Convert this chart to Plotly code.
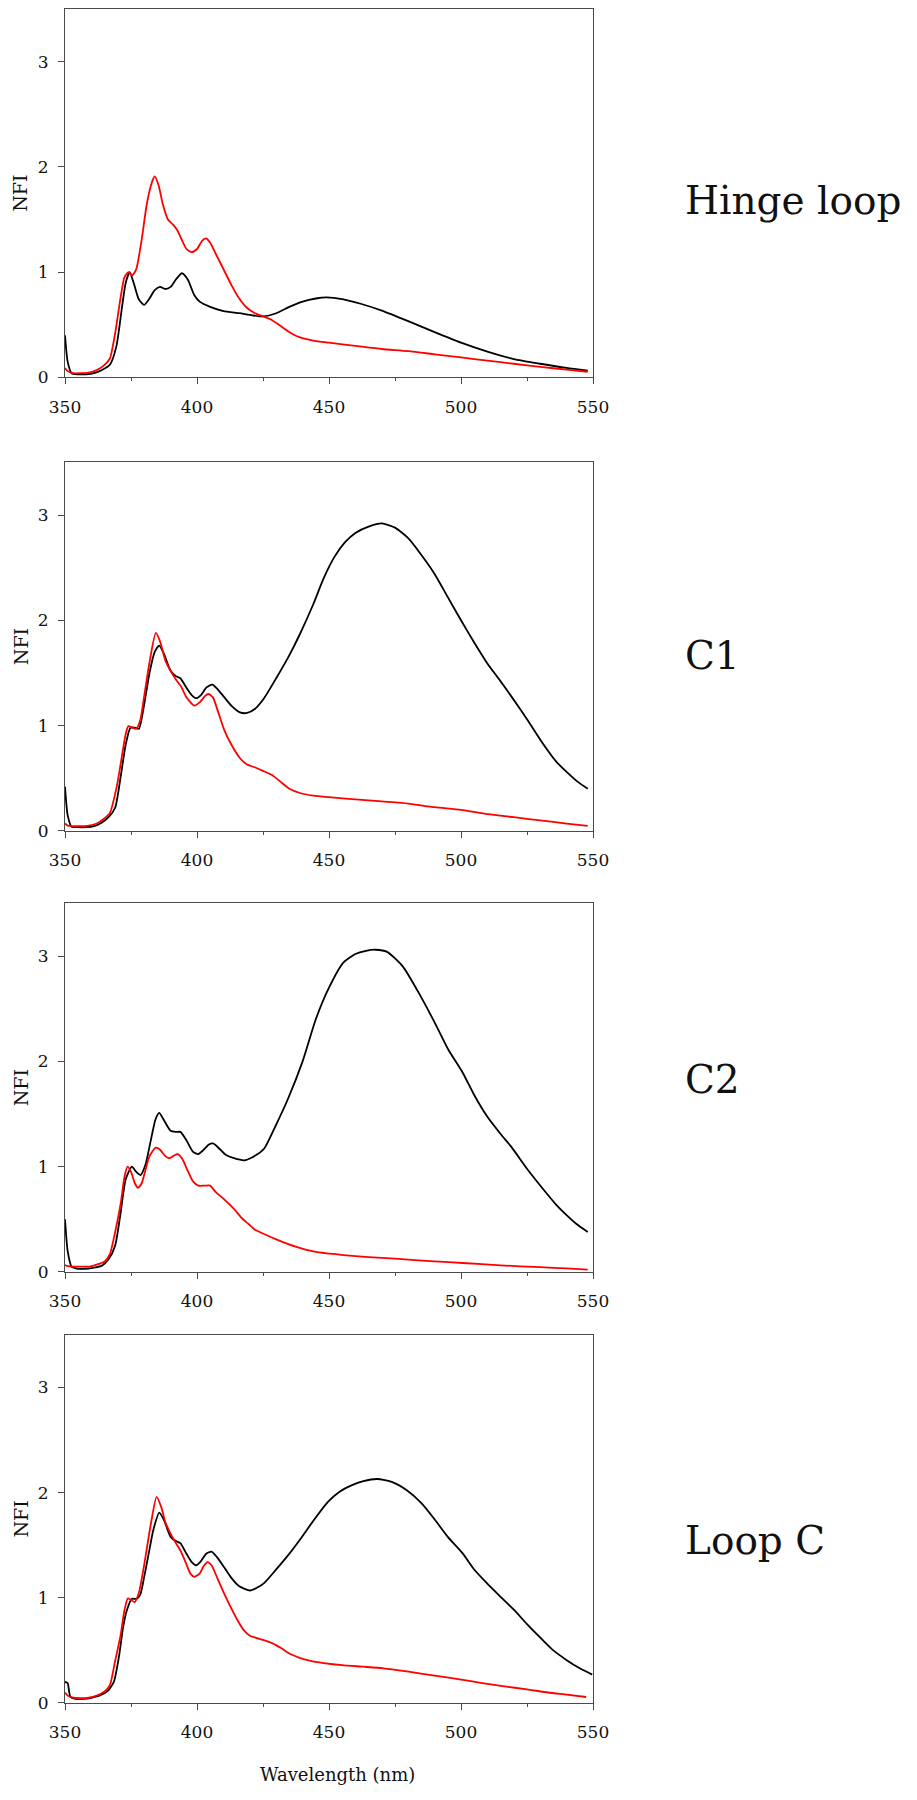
import plotly.graph_objects as go

# ---------------- data (wavelength nm, NFI) ----------------
panel_labels = ["Hinge loop", "C1", "C2", "Loop C"]
x_ticks = [350, 400, 450, 500, 550]
y_ticks = [0, 1, 2, 3]

hinge_black = [(350, 0.40), (351, 0.15), (352.5, 0.04), (355, 0.03), (358, 0.03), (361, 0.04), (364, 0.07),
               (367, 0.12), (369.5, 0.30), (371.5, 0.65), (373, 0.90), (374.5, 1.00), (376, 0.90), (378, 0.74),
               (380, 0.69), (382, 0.75), (384, 0.83), (386, 0.86), (388, 0.84), (390, 0.86), (392, 0.93),
               (394.3, 0.99), (396.5, 0.93), (399, 0.78), (401, 0.72), (405, 0.67), (410, 0.63), (416, 0.61),
               (421, 0.59), (425, 0.58), (430, 0.61), (435, 0.67), (440, 0.72), (445, 0.75), (449, 0.76),
               (455, 0.745), (462, 0.70), (470, 0.635), (480, 0.535), (490, 0.43), (500, 0.33), (510, 0.245),
               (520, 0.175), (530, 0.13), (540, 0.09), (548, 0.065)]
hinge_red = [(350, 0.09), (351, 0.06), (353, 0.04), (356, 0.04), (359, 0.045), (362, 0.07), (365, 0.12),
             (367, 0.18), (369, 0.42), (371, 0.75), (372.5, 0.95), (374, 1.00), (375.5, 0.97), (377, 1.03),
             (379, 1.30), (381, 1.65), (383, 1.86), (384, 1.91), (385.5, 1.82), (387, 1.65), (389, 1.50),
             (391, 1.45), (392.5, 1.40), (394, 1.32), (396, 1.22), (398, 1.19), (400, 1.22), (402, 1.30),
             (403.5, 1.32), (405, 1.28), (407, 1.18), (410, 1.03), (413, 0.88), (416, 0.75), (419, 0.66),
             (422, 0.61), (425, 0.58), (428, 0.55), (431, 0.50), (435, 0.43), (439, 0.38), (444, 0.35),
             (450, 0.33), (460, 0.30), (470, 0.27), (480, 0.25), (490, 0.22), (500, 0.19), (510, 0.16),
             (520, 0.13), (530, 0.10), (540, 0.075), (548, 0.054)]

c1_black = [(350, 0.42), (351, 0.15), (352.5, 0.04), (355, 0.035), (358, 0.035), (361, 0.045), (364, 0.08),
            (366.5, 0.13), (369, 0.22), (371, 0.50), (373, 0.82), (374.8, 0.98), (376.5, 0.98), (378, 0.97),
            (380, 1.20), (382, 1.50), (384, 1.70), (385.7, 1.76), (387.5, 1.68), (390, 1.52), (392, 1.47),
            (393.7, 1.45), (396, 1.36), (398, 1.29), (399.7, 1.26), (401.5, 1.29), (403.5, 1.36), (405.8, 1.39),
            (408, 1.34), (410.3, 1.27), (413, 1.19), (416.3, 1.125), (419, 1.12), (422, 1.16), (425.4, 1.26),
            (430, 1.45), (435, 1.67), (439, 1.87), (444, 2.15), (448, 2.40), (452, 2.60), (456, 2.74),
            (460, 2.83), (465, 2.89), (470, 2.92), (475, 2.88), (480, 2.78), (485, 2.62), (490, 2.44),
            (495, 2.22), (500, 2.00), (505, 1.79), (510, 1.59), (515, 1.42), (519, 1.28), (525, 1.06),
            (531, 0.83), (536, 0.66), (540, 0.56), (544, 0.47), (548, 0.40)]
c1_red = [(350, 0.07), (351, 0.05), (353, 0.045), (356, 0.045), (359, 0.05), (362, 0.07), (365, 0.12),
          (367, 0.17), (369.6, 0.42), (371.5, 0.70), (373, 0.92), (374, 0.995), (375.5, 0.98), (377, 0.97),
          (378.5, 1.05), (380, 1.28), (382, 1.60), (384.4, 1.88), (386, 1.80), (388, 1.62), (390, 1.52),
          (392.2, 1.43), (394, 1.37), (396, 1.27), (399, 1.19), (401, 1.22), (403, 1.28), (404.3, 1.30),
          (406, 1.27), (408, 1.13), (410.3, 0.96), (413, 0.82), (416.3, 0.69), (419, 0.63), (422.3, 0.60),
          (425, 0.57), (428.4, 0.53), (432, 0.46), (435, 0.40), (439, 0.36), (444, 0.335), (450, 0.32),
          (460, 0.30), (470, 0.28), (480, 0.26), (490, 0.225), (500, 0.20), (510, 0.16), (520, 0.13),
          (530, 0.10), (540, 0.07), (548, 0.047)]

c2_black = [(350, 0.50), (351, 0.20), (352.5, 0.05), (355, 0.03), (358, 0.03), (361, 0.04), (364, 0.06),
            (366.5, 0.12), (369, 0.25), (371, 0.55), (373, 0.88), (375.3, 1.00), (377, 0.95), (378.6, 0.92),
            (380.5, 1.02), (382.5, 1.25), (384.3, 1.45), (385.7, 1.51), (387.5, 1.44), (390, 1.34), (392, 1.33),
            (393.7, 1.33), (396, 1.25), (398.5, 1.14), (400.5, 1.12), (402.5, 1.16), (404.5, 1.21), (406.1, 1.22),
            (408.5, 1.17), (411, 1.11), (414, 1.08), (417.8, 1.06), (421, 1.09), (425.4, 1.17), (430, 1.40),
            (434.4, 1.64), (440, 2.00), (445, 2.40), (450, 2.70), (455.5, 2.94), (460, 3.02), (464, 3.05),
            (467.6, 3.06), (472, 3.04), (478, 2.90), (484, 2.65), (490, 2.37), (495, 2.12), (500.7, 1.89),
            (505, 1.68), (509.8, 1.48), (515, 1.31), (519, 1.19), (525, 0.98), (531, 0.79), (536, 0.64),
            (540, 0.54), (544, 0.45), (548, 0.38)]
c2_red = [(350, 0.065), (351, 0.055), (353, 0.05), (356, 0.05), (359, 0.05), (362, 0.07), (365, 0.10),
          (367, 0.17), (369, 0.38), (371.1, 0.65), (372.5, 0.90), (373.7, 1.00), (375, 0.95), (376.5, 0.84),
          (377.6, 0.80), (379, 0.84), (380.5, 0.97), (382, 1.10), (384.4, 1.18), (386, 1.16), (388, 1.10),
          (389.5, 1.08), (391, 1.10), (392.7, 1.12), (394.5, 1.07), (396.5, 0.96), (398.5, 0.86), (400.5, 0.82),
          (403, 0.82), (405, 0.82), (407, 0.76), (410.3, 0.69), (414, 0.60), (417, 0.51), (419.3, 0.46),
          (422, 0.40), (425.4, 0.36), (430, 0.31), (437.4, 0.24), (445, 0.19), (455.5, 0.16), (465, 0.14),
          (475, 0.126), (490, 0.10), (500.7, 0.085), (515, 0.063), (530, 0.045), (540, 0.033), (548, 0.022)]

loopc_black = [(350, 0.20), (351, 0.19), (352, 0.06), (354, 0.04), (357, 0.04), (360, 0.05), (363, 0.07),
               (366, 0.11), (368.5, 0.20), (370.5, 0.45), (372, 0.72), (373.4, 0.88), (375.3, 0.99), (377.1, 0.99),
               (378.5, 1.03), (380, 1.20), (381.7, 1.42), (383.5, 1.65), (385.7, 1.81), (387.5, 1.74), (390, 1.58),
               (392, 1.54), (393.7, 1.52), (396, 1.42), (398, 1.34), (399.7, 1.31), (401.5, 1.35), (403.5, 1.42),
               (405.5, 1.44), (407.5, 1.39), (410.3, 1.29), (413, 1.19), (416, 1.11), (420.1, 1.07), (423, 1.10),
               (425.4, 1.14), (430, 1.27), (435, 1.42), (438.9, 1.55), (444, 1.73), (449.5, 1.91), (454, 2.01),
               (458.5, 2.07), (463, 2.11), (468.3, 2.13), (474, 2.10), (479.6, 2.02), (485, 1.90), (490.2, 1.74),
               (495, 1.58), (500.7, 1.42), (505, 1.27), (509.8, 1.14), (515, 1.01), (520.3, 0.88), (525, 0.75),
               (530.9, 0.60), (535, 0.50), (539.9, 0.41), (545, 0.33), (549.7, 0.27)]
loopc_red = [(350, 0.10), (351, 0.07), (353, 0.05), (356, 0.045), (359, 0.05), (362, 0.07), (365, 0.11),
             (367, 0.17), (369, 0.40), (371.1, 0.65), (372.5, 0.88), (373.8, 0.995), (375, 0.98), (376.4, 0.96),
             (378, 1.05), (380.1, 1.33), (382.5, 1.70), (384.7, 1.96), (386.5, 1.86), (388, 1.72), (390, 1.61),
             (392, 1.52), (393.7, 1.45), (395.5, 1.35), (397.5, 1.23), (399, 1.20), (401, 1.23), (402.5, 1.30),
             (404, 1.34), (405.5, 1.31), (407.5, 1.20), (410.3, 1.04), (413, 0.90), (415.5, 0.78), (417.8, 0.69),
             (420, 0.64), (422.3, 0.62), (425, 0.60), (428.4, 0.57), (432, 0.52), (435, 0.47), (438.9, 0.43),
             (443, 0.40), (448, 0.38), (455, 0.36), (463, 0.345), (470.6, 0.33), (479.6, 0.30), (490, 0.26),
             (500.7, 0.22), (508, 0.19), (515.8, 0.16), (525, 0.13), (533, 0.10), (540, 0.08), (547.4, 0.057)]

series = [(hinge_black, hinge_red), (c1_black, c1_red), (c2_black, c2_red), (loopc_black, loopc_red)]

# ---------------- layout ----------------
OFF = 8                      # page body margin offset
W, H = 917 - 2 * OFF, 1800 - 2 * OFF
PL, PR = 65.4 - OFF, 593.4 - OFF   # plot left/right in figure px
ML, MR = PL, W - PR
MT = 9.2 - OFF
PB = 1703 - OFF
MB = H - PB
plot_h = PB - MT
plot_w = PR - PL
panel_px = [(9.2, 377.6), (462.5, 831), (903.5, 1272), (1335, 1703)]
label_y_px = [201, 656, 1080, 1541]
label_x_px = 683

FONT = "DejaVu Serif"
TXT = "#111111"
AXIS_COLOR = "#4a4a4a"

fig = go.Figure()
layout = dict(
    width=W, height=H, margin=dict(l=ML, r=MR, t=MT, b=MB, pad=0),
    paper_bgcolor="white", plot_bgcolor="white", showlegend=False,
    font=dict(family=FONT, size=17, color=TXT),
)
annotations = []

def ypaper(px):
    return (PB - (px - OFF)) / plot_h

def xpaper(px):
    return ((px - OFF) - PL) / plot_w

for i, (blk, red) in enumerate(series):
    n = i + 1
    xa = "x" if n == 1 else f"x{n}"
    ya = "y" if n == 1 else f"y{n}"
    for data, col in ((blk, "#000000"), (red, "#ff0000")):
        fig.add_trace(go.Scatter(
            x=[p[0] for p in data], y=[p[1] for p in data], mode="lines",
            line=dict(color=col, width=1.8, shape="spline", smoothing=0.6),
            xaxis=xa, yaxis=ya, hoverinfo="skip"))
    top, bot = panel_px[i]
    layout["xaxis" if n == 1 else f"xaxis{n}"] = dict(
        domain=[0, 1], anchor=ya, range=[350, 550], tickvals=x_ticks,
        ticks="outside", ticklen=6, tickwidth=1, tickcolor=AXIS_COLOR,
        showline=True, linecolor=AXIS_COLOR, linewidth=1, mirror=True,
        showgrid=False, zeroline=False, ticklabelstandoff=8,
        tickfont=dict(family=FONT, size=17, color=TXT),
        minor=dict(dtick=25, tick0=350, ticks="outside", ticklen=3, tickcolor=AXIS_COLOR, showgrid=False),
    )
    layout["yaxis" if n == 1 else f"yaxis{n}"] = dict(
        domain=[ypaper(bot), ypaper(top)], anchor=xa, range=[0, 3.5], tickvals=y_ticks,
        ticks="outside", ticklen=6, tickwidth=1, tickcolor=AXIS_COLOR,
        showline=True, linecolor=AXIS_COLOR, linewidth=1, mirror=True,
        showgrid=False, zeroline=False, ticklabelstandoff=6,
        tickfont=dict(family=FONT, size=17, color=TXT),
    )
    annotations.append(dict(
        text="NFI", xref="paper", yref="paper", x=xpaper(21),
        y=(ypaper(top) + ypaper(bot)) / 2, textangle=-90, showarrow=False,
        xanchor="center", yanchor="middle", font=dict(family=FONT, size=19, color=TXT)))
    annotations.append(dict(
        text=panel_labels[i], xref="paper", yref="paper", x=xpaper(label_x_px),
        y=ypaper(label_y_px[i]), showarrow=False, xanchor="left", yanchor="middle",
        font=dict(family=FONT, size=39, color=TXT)))

annotations.append(dict(
    text="Wavelength (nm)", xref="paper", yref="paper", x=xpaper(338),
    y=ypaper(1774), showarrow=False, xanchor="center", yanchor="middle",
    font=dict(family=FONT, size=18, color=TXT)))
layout["annotations"] = annotations
fig.update_layout(**layout)
fig.write_html("out.html")
